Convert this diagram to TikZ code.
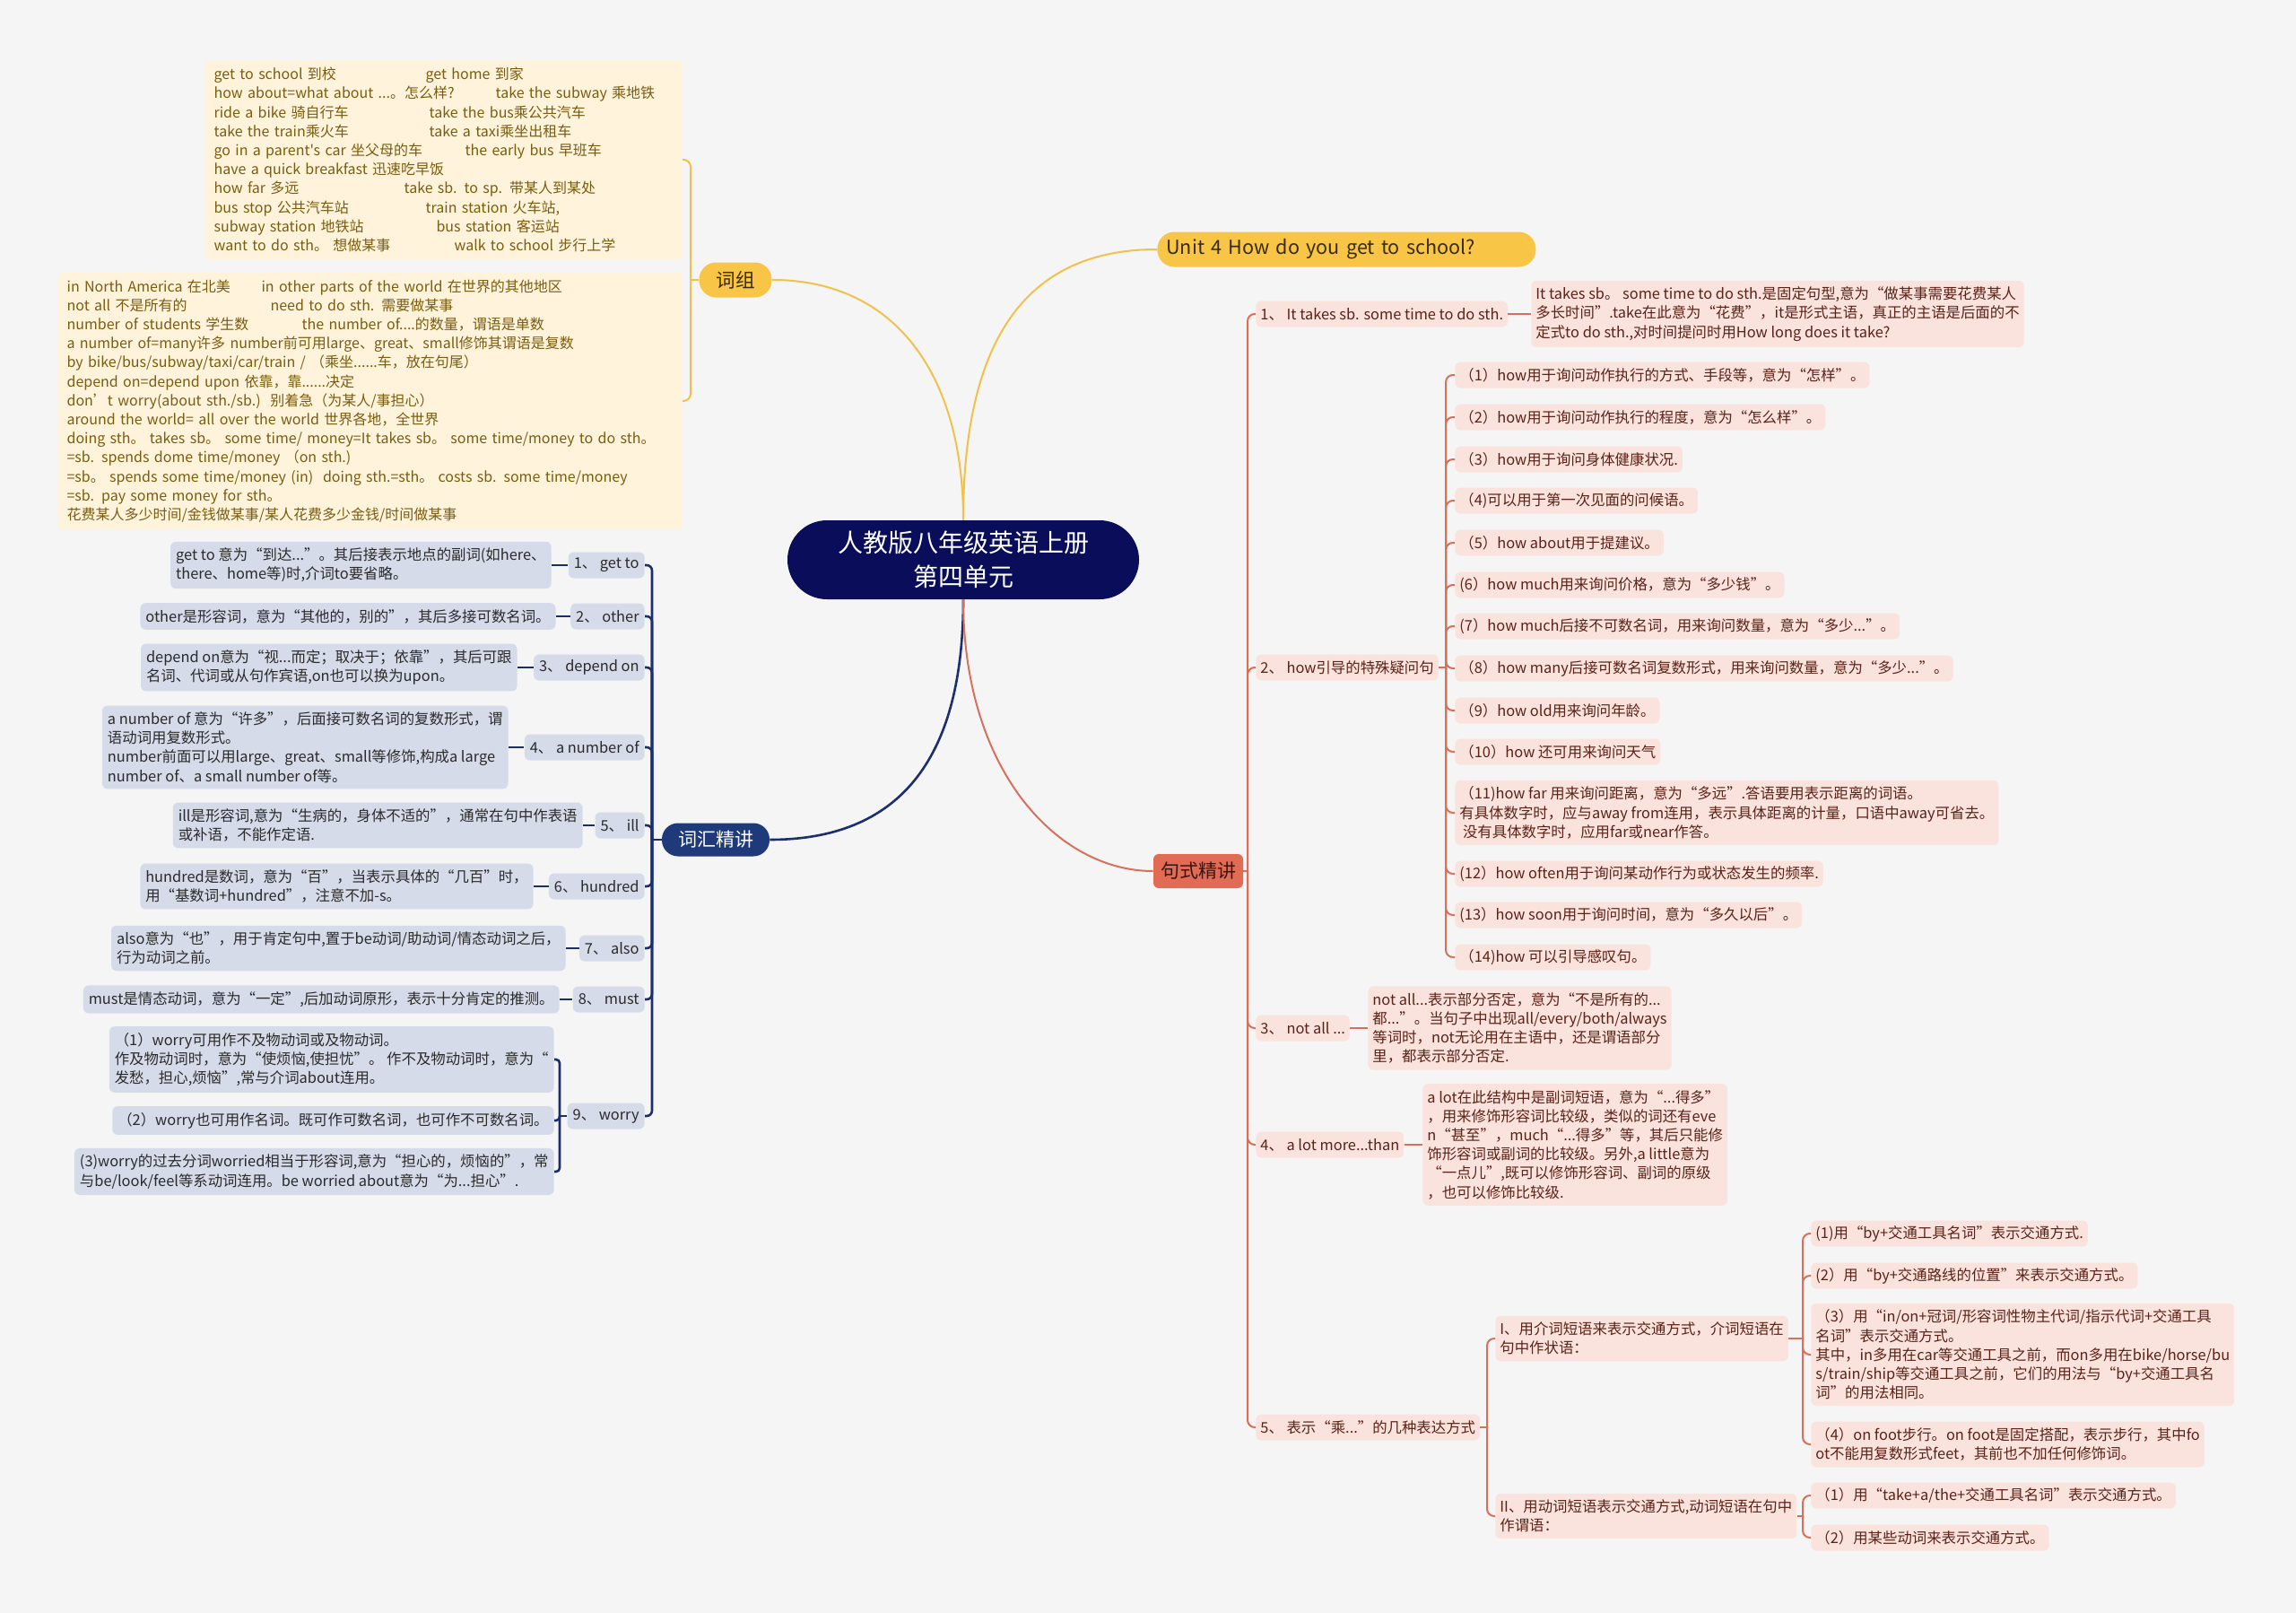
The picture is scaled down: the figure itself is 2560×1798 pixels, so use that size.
\documentclass[tikz,border=0pt]{standalone}
\usepackage{fontspec}
\setmainfont{Noto Sans CJK SC}[Ligatures=TeXOff]
\usepackage{xcolor}
\usepackage{tikz}

\definecolor{fundo}{HTML}{F5F5F5}
\definecolor{raizfundo}{HTML}{0A0E5A}
\definecolor{ylinha}{HTML}{F2C14C}
\definecolor{yno}{HTML}{F8C546}
\definecolor{ynotexto}{HTML}{3A2A05}
\definecolor{yfundo}{HTML}{FFF4DB}
\definecolor{ytexto}{HTML}{7A5C10}
\definecolor{blinha}{HTML}{1B2F6E}
\definecolor{bno}{HTML}{1E3A7B}
\definecolor{bfundo}{HTML}{D6DBEA}
\definecolor{btexto}{HTML}{2A2A2A}
\definecolor{rlinha}{HTML}{D9705A}
\definecolor{rno}{HTML}{E26B55}
\definecolor{rnotexto}{HTML}{3B1410}
\definecolor{rfundo}{HTML}{FAE3DC}
\definecolor{rtexto}{HTML}{5A2218}

\newcommand{\folha}{\fontsize{8.2}{10.6}\selectfont}

\tikzset{
  raiz/.style={fill=raizfundo, text=white, rounded corners=22pt, minimum width=196pt,
    minimum height=44pt, align=center, font=\fontsize{14}{19}\selectfont},
  yramo/.style={fill=yno, text=ynotexto, rounded corners=9.5pt, minimum height=19.5pt,
    inner xsep=5pt, font=\fontsize{10.8}{12}\selectfont},
  yfolha/.style={fill=yfundo, text=ytexto, rounded corners=2pt, inner xsep=5pt,
    inner ysep=4pt, align=left, font=\fontsize{8}{10.6}\selectfont},
  bramo/.style={fill=bno, text=white, rounded corners=9pt, minimum height=18.5pt,
    minimum width=60pt, font=\fontsize{10.5}{12}\selectfont},
  brot/.style={fill=bfundo, text=btexto, rounded corners=3pt, minimum height=14.5pt,
    inner xsep=3pt, inner ysep=2pt, font=\folha},
  bfolha/.style={brot, align=left, inner ysep=3.5pt},
  rramo/.style={fill=rno, text=rnotexto, rounded corners=3pt, minimum height=19pt,
    inner xsep=4pt, font=\fontsize{10.5}{12}\selectfont},
  rrot/.style={fill=rfundo, text=rtexto, rounded corners=3pt, minimum height=14.5pt,
    inner xsep=2.5pt, inner ysep=2pt, font=\folha, anchor=west},
  rfolha/.style={rrot, align=left, inner ysep=3.5pt},
  ylin/.style={draw=ylinha, line width=1pt},
  blin/.style={draw=blinha, line width=1.3pt},
  rlin/.style={draw=rlinha, line width=1pt},
}

\begin{document}
\begin{tikzpicture}[x=0.5pt,y=-0.5pt]
  \fill[fundo] (0,0) rectangle (2560,1798);
  \useasboundingbox (0,0) rectangle (2560,1798);

  % centro
  \node[raiz] (centro) at (1074,624) {人教版八年级英语上册\\第四单元};

  % ramo amarelo
  \node[yramo, minimum width=40.5pt] (cizu) at (820,312) {词组};
  \node[yramo, anchor=west, text width=201pt, align=left] (unidade) at (1290,278)
    {Unit 4 How do you get to school?};
  \node[yfolha, anchor=east, text width=256pt] (y1) at (761,178) {%
    \makebox[118pt][l]{get to school 到校}get home 到家\\
    \makebox[157pt][l]{how about=what about ...。怎么样?}take the subway 乘地铁\\
    \makebox[120pt][l]{ride a bike 骑自行车}take the bus乘公共汽车\\
    \makebox[120pt][l]{take the train乘火车}take a taxi乘坐出租车\\
    \makebox[140pt][l]{go in a parent's car 坐父母的车}the early bus 早班车\\
    have a quick breakfast 迅速吃早饭\\
    \makebox[106pt][l]{how far 多远}take sb. to sp. 带某人到某处\\
    \makebox[118pt][l]{bus stop 公共汽车站}train station 火车站,\\
    \makebox[124pt][l]{subway station 地铁站}bus station 客运站\\
    \makebox[134pt][l]{want to do sth。 想做某事}walk to school 步行上学};
  \node[yfolha, anchor=east, text width=338pt] (y2) at (761,447) {%
    \makebox[108.5pt][l]{in North America 在北美}in other parts of the world 在世界的其他地区\\
    \makebox[113.5pt][l]{not all 不是所有的}need to do sth. 需要做某事\\
    \makebox[131pt][l]{number of students 学生数}the number of....的数量，谓语是单数\\
    a number of=many许多 number前可用large、great、small修饰其谓语是复数\\
    by bike/bus/subway/taxi/car/train / （乘坐......车，放在句尾）\\
    depend on=depend upon 依靠，靠......决定\\
    don’t worry(about sth./sb.)\ \ 别着急（为某人/事担心）\\
    around the world= all over the world 世界各地，全世界\\
    doing sth。 takes sb。 some time/ money=It takes sb。 some time/money to do sth。\\
    =sb. spends dome time/money （on sth.)\\
    =sb。 spends some time/money (in)\ \ doing sth.=sth。 costs sb. some time/money\\
    =sb. pay some money for sth。\\
    花费某人多少时间/金钱做某事/某人花费多少金钱/时间做某事};
  \draw[ylin] (centro.north) .. controls (1074,420) and (1000,312) .. (cizu.east);
  \draw[ylin] (centro.north) .. controls (1074,370) and (1150,278) .. (unidade.west);
  \draw[ylin] (cizu.west) -- (770,312);
  \draw[ylin, rounded corners=4pt] (770,312) |- (y1.east);
  \draw[ylin, rounded corners=4pt] (770,312) |- (y2.east);

  % ramo azul
  \node[bramo] (vocab) at (798,936) {词汇精讲};
  \draw[blin] (centro.south) .. controls (1074,850) and (1000,936) .. (vocab.east);
  \node[brot, anchor=east] (b1) at (719,630) {1、 get to};
  \node[brot, anchor=east] (b2) at (719,687) {2、 other};
  \node[brot, anchor=east] (b3) at (719,744) {3、 depend on};
  \node[brot, anchor=east] (b4) at (719,833) {4、 a number of};
  \node[brot, anchor=east] (b5) at (719,920) {5、 ill};
  \node[brot, anchor=east] (b6) at (719,988) {6、 hundred};
  \node[brot, anchor=east] (b7) at (719,1057) {7、 also};
  \node[brot, anchor=east] (b8) at (719,1114) {8、 must};
  \node[brot, anchor=east] (b9) at (719,1244) {9、 worry};
  \draw[blin] (vocab.west) -- (727,936);
  \foreach \n in {b1,b2,b3,b4,b5,b6,b7,b8,b9}
    \draw[blin, rounded corners=3pt] (727,936) |- (\n.east);

  \node[bfolha, anchor=east] (bd1) at (615,630)
    {get to 意为“到达...”。其后接表示地点的副词(如here、\\there、home等)时,介词to要省略。};
  \node[bfolha, anchor=east] (bd2) at (620,687)
    {other是形容词，意为“其他的，别的”，其后多接可数名词。};
  \node[bfolha, anchor=east] (bd3) at (577,744)
    {depend on意为“视...而定；取决于；依靠”，其后可跟\\名词、代词或从句作宾语,on也可以换为upon。};
  \node[bfolha, anchor=east] (bd4) at (567,833)
    {a number of 意为“许多”，后面接可数名词的复数形式，谓\\语动词用复数形式。\\number前面可以用large、great、small等修饰,构成a large\\number of、a small number of等。};
  \node[bfolha, anchor=east] (bd5) at (650,920)
    {ill是形容词,意为“生病的，身体不适的”，通常在句中作表语\\或补语，不能作定语.};
  \node[bfolha, anchor=east] (bd6) at (595,988)
    {hundred是数词，意为“百”，当表示具体的“几百”时，\\用“基数词+hundred”，注意不加-s。};
  \node[bfolha, anchor=east] (bd7) at (631,1057)
    {also意为“也”，用于肯定句中,置于be动词/助动词/情态动词之后，\\行为动词之前。};
  \node[bfolha, anchor=east] (bd8) at (624,1114)
    {must是情态动词，意为“一定”,后加动词原形，表示十分肯定的推测。};
  \foreach \n in {1,...,8}
    \draw[blin] (bd\n.east) -- (b\n.west);
  \node[bfolha, anchor=east] (bw1) at (618,1181)
    {（1）worry可用作不及物动词或及物动词。\\作及物动词时，意为“使烦恼,使担忧”。 作不及物动词时，意为“\\发愁，担心,烦恼”,常与介词about连用。};
  \node[bfolha, anchor=east] (bw2) at (618,1249)
    {（2）worry也可用作名词。既可作可数名词，也可作不可数名词。};
  \node[bfolha, anchor=east] (bw3) at (618,1306)
    {(3)worry的过去分词worried相当于形容词,意为“担心的，烦恼的”，常\\与be/look/feel等系动词连用。be worried about意为“为...担心”.};
  \draw[blin] (b9.west) -- (624,1244);
  \foreach \n in {bw1,bw2,bw3}
    \draw[blin, rounded corners=2pt] (624,1244) |- (\n.east);

  % ramo vermelho
  \node[rramo] (frase) at (1336,971) {句式精讲};
  \draw[rlin] (centro.south) .. controls (1074,860) and (1180,971) .. (frase.west);
  \node[rrot] (r1) at (1400,350) {1、 It takes sb. some time to do sth.};
  \node[rrot] (r2) at (1400,744) {2、 how引导的特殊疑问句};
  \node[rrot] (r3) at (1400,1146) {3、 not all ...};
  \node[rrot] (r4) at (1400,1276) {4、 a lot more...than};
  \node[rrot] (r5) at (1400,1591) {5、 表示“乘...”的几种表达方式};
  \draw[rlin] (frase.east) -- (1391,971);
  \foreach \n in {r1,r2,r3,r4,r5}
    \draw[rlin, rounded corners=4pt] (1391,971) |- (\n.west);

  \node[rfolha] (rd1) at (1707,350)
    {It takes sb。 some time to do sth.是固定句型,意为“做某事需要花费某人\\多长时间”.take在此意为“花费”，it是形式主语，真正的主语是后面的不\\定式to do sth.,对时间提问时用How long does it take?};
  \draw[rlin] (r1.east) -- (rd1.west);

  \node[rrot] (h1) at (1622,418) {（1）how用于询问动作执行的方式、手段等，意为“怎样”。};
  \node[rrot] (h2) at (1622,465) {（2）how用于询问动作执行的程度，意为“怎么样”。};
  \node[rrot] (h3) at (1622,512) {（3）how用于询问身体健康状况.};
  \node[rrot] (h4) at (1622,558) {（4)可以用于第一次见面的问候语。};
  \node[rrot] (h5) at (1622,605) {（5）how about用于提建议。};
  \node[rrot] (h6) at (1622,652) {(6）how much用来询问价格，意为“多少钱”。};
  \node[rrot] (h7) at (1622,698) {(7）how much后接不可数名词，用来询问数量，意为“多少...”。};
  \node[rrot] (h8) at (1622,745) {（8）how many后接可数名词复数形式，用来询问数量，意为“多少...”。};
  \node[rrot] (h9) at (1622,792) {（9）how old用来询问年龄。};
  \node[rrot] (h10) at (1622,838) {（10）how 还可用来询问天气};
  \node[rfolha] (h11) at (1622,906)
    {（11)how far 用来询问距离，意为“多远”.答语要用表示距离的词语。\\有具体数字时，应与away from连用，表示具体距离的计量，口语中away可省去。\\\ 没有具体数字时，应用far或near作答。};
  \node[rrot] (h12) at (1622,974) {(12）how often用于询问某动作行为或状态发生的频率.};
  \node[rrot] (h13) at (1622,1020) {(13）how soon用于询问时间，意为“多久以后”。};
  \node[rrot] (h14) at (1622,1067) {（14)how 可以引导感叹句。};
  \draw[rlin] (r2.east) -- (1612,744);
  \foreach \n in {1,...,14}
    \draw[rlin, rounded corners=4pt] (1612,744) |- (h\n.west);

  \node[rfolha] (rd3) at (1525,1146)
    {not all...表示部分否定，意为“不是所有的...\\都...”。当句子中出现all/every/both/always\\等词时，not无论用在主语中，还是谓语部分\\里，都表示部分否定.};
  \draw[rlin] (r3.east) -- (rd3.west);
  \node[rfolha] (rd4) at (1586,1276)
    {a lot在此结构中是副词短语，意为“...得多”\\，用来修饰形容词比较级，类似的词还有eve\\n“甚至”，much“...得多”等，其后只能修\\饰形容词或副词的比较级。另外,a little意为\\“一点儿”,既可以修饰形容词、副词的原级\\，也可以修饰比较级.};
  \draw[rlin] (r4.east) -- (rd4.west);

  \node[rfolha] (m1) at (1667,1492)
    {I、用介词短语来表示交通方式，介词短语在\\句中作状语：};
  \node[rfolha] (m2) at (1667,1690)
    {II、用动词短语表示交通方式,动词短语在句中\\作谓语：};
  \draw[rlin] (r5.east) -- (1658,1591);
  \foreach \n in {m1,m2}
    \draw[rlin, rounded corners=4pt] (1658,1591) |- (\n.west);

  \node[rrot] (p1) at (2019,1375) {(1)用“by+交通工具名词”表示交通方式.};
  \node[rrot] (p2) at (2019,1422) {(2）用“by+交通路线的位置”来表示交通方式。};
  \node[rfolha] (p3) at (2019,1510)
    {（3）用“in/on+冠词/形容词性物主代词/指示代词+交通工具\\名词”表示交通方式。\\其中，in多用在car等交通工具之前，而on多用在bike/horse/bu\\s/train/ship等交通工具之前，它们的用法与“by+交通工具名\\词”的用法相同。};
  \node[rfolha] (p4) at (2019,1610)
    {（4）on foot步行。on foot是固定搭配，表示步行，其中fo\\ot不能用复数形式feet，其前也不加任何修饰词。};
  \draw[rlin] (m1.east) -- (2010,1492);
  \foreach \n in {p1,p2,p3,p4}
    \draw[rlin, rounded corners=4pt] (2010,1492) |- (\n.west);
  \node[rrot] (q1) at (2019,1667) {（1）用“take+a/the+交通工具名词”表示交通方式。};
  \node[rrot] (q2) at (2019,1714) {（2）用某些动词来表示交通方式。};
  \draw[rlin] (m2.east) -- (2010,1690);
  \foreach \n in {q1,q2}
    \draw[rlin, rounded corners=4pt] (2010,1690) |- (\n.west);
\end{tikzpicture}
\end{document}
